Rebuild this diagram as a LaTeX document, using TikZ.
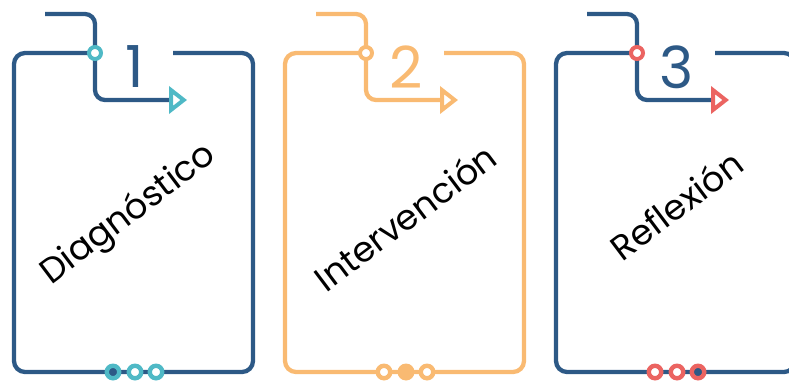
\documentclass[tikz,border=0pt]{standalone}
\usepackage{fontspec}
\setmainfont{Poppins}
\usetikzlibrary{arrows.meta,positioning}
\definecolor{navy}{HTML}{2D5986}
\definecolor{cyanc}{HTML}{4FB9C6}
\definecolor{orangec}{HTML}{F9BA72}
\definecolor{redc}{HTML}{EB6461}
\tikzset{
  frame/.style={line width=4.3pt, rounded corners=11pt},
  flow/.style={line width=4.3pt, rounded corners=10pt, line cap=butt},
  tip/.style={-{Triangle[open, length=18pt, width=27pt, line width=4pt, #1]}},
  tip/.default={},
  jct/.style={circle, draw, fill=white, line width=4pt, minimum size=12pt, inner sep=0pt},
  dotc/.style={circle, draw, fill=white, line width=4.4pt, minimum size=12.5pt, inner sep=0pt},
  stepnum/.style={font=\fontsize{58}{58}\selectfont, inner sep=0pt},
  steplbl/.style={rotate=37, font=\fontsize{35}{35}\selectfont, inner sep=0pt},
}
\begin{document}
\begin{tikzpicture}[x=1pt, y=-1pt]
          \clip (0,0) rectangle (789,381);
          % step 1
          \coordinate (s1) at (45,14);
          \coordinate (k1) at (95,53);
          \coordinate (t1) at (187,100);
          \coordinate (g1) at (173,53);
          \draw [frame, navy] (g1) -- (253,53) -- (253,372) -- (14,372) -- (14,53) -- (k1);
          \draw [flow, navy, tip={color=cyanc}] (s1) -| (k1) |- (t1);
          \node [jct, draw=cyanc] (j1) at (k1) {};
          \node [stepnum, navy] (n1) at (135,67) {1};
          \node [steplbl] (l1) at (129,215) {Diagnóstico};
          \node [dotc, draw=cyanc, fill=navy] (d1a) at (113,372) {};
          \node [dotc, draw=cyanc] (d1b) at (135,372) {};
          \node [dotc, draw=cyanc] (d1c) at (156,372) {};
          % step 2
          \coordinate (s2) at (316,14);
          \coordinate (k2) at (366,53);
          \coordinate (t2) at (458,100);
          \coordinate (g2) at (444,53);
          \draw [frame, orangec] (g2) -- (524,53) -- (524,372) -- (285,372) -- (285,53) -- (k2);
          \draw [flow, orangec, tip] (s2) -| (k2) |- (t2);
          \node [jct, draw=orangec] (j2) at (k2) {};
          \node [stepnum, orangec] (n2) at (406,67) {2};
          \node [steplbl] (l2) at (405,217) {Intervención};
          \node [dotc, draw=orangec] (d2a) at (384,372) {};
          \node [dotc, draw=orangec, fill=orangec] (d2b) at (406,372) {};
          \node [dotc, draw=orangec] (d2c) at (427,372) {};
          % step 3
          \coordinate (s3) at (587,14);
          \coordinate (k3) at (637,53);
          \coordinate (t3) at (729,100);
          \coordinate (g3) at (715,53);
          \draw [frame, navy] (g3) -- (795,53) -- (795,372) -- (556,372) -- (556,53) -- (k3);
          \draw [flow, navy, tip={color=redc}] (s3) -| (k3) |- (t3);
          \node [jct, draw=redc] (j3) at (k3) {};
          \node [stepnum, navy] (n3) at (677,67) {3};
          \node [steplbl] (l3) at (676,205) {Reflexión};
          \node [dotc, draw=redc] (d3a) at (655,372) {};
          \node [dotc, draw=redc] (d3b) at (677,372) {};
          \node [dotc, draw=redc, fill=navy] (d3c) at (698,372) {};
\end{tikzpicture}
\end{document}
